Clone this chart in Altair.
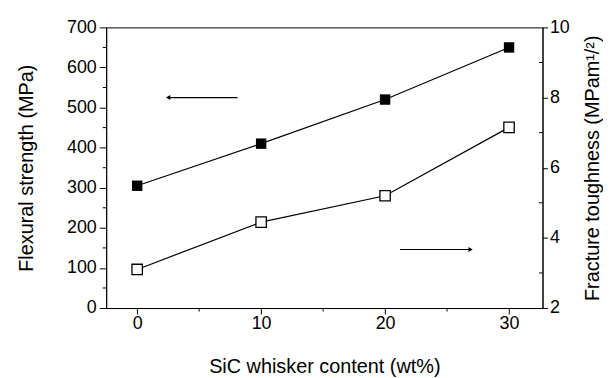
import altair as alt
import pandas as pd

# ---- data ----
content = [0, 10, 20, 30]
strength = [305, 410, 520, 650]          # MPa (filled squares, left axis)
toughness = [3.1, 4.45, 5.2, 7.15]        # MPa m^1/2 (open squares, right axis)

x_ticks = [0, 10, 20, 30]
x_minor = [5, 15, 25]
s_ticks = [0, 100, 200, 300, 400, 500, 600, 700]
s_minor = [50, 150, 250, 350, 450, 550, 650]
t_ticks = [2, 4, 6, 8, 10]
t_minor = [3, 5, 7, 9]

# arrows (in data coordinates of x and strength scale)
arrow_left_x = [8.1, 2.5]
arrow_left_y = [525, 525]
arrow_right_x = [21.2, 26.9]
arrow_right_y = [146, 146]

FONT = "Liberation Sans"
W, H = 440, 283

df = pd.DataFrame({"content": content, "strength": strength, "toughness": toughness})

xscale = alt.Scale(domain=[-2.5, 32.7], nice=False, zero=False)
sscale = alt.Scale(domain=[0, 700], nice=False, zero=False)
tscale = alt.Scale(domain=[2, 10], nice=False, zero=False)

xenc = alt.X("content:Q", scale=xscale,
             axis=alt.Axis(values=x_ticks, title="SiC whisker content (wt%)",
                           tickSize=6, labelPadding=1, titlePadding=24,
                           grid=False, format="d"))
senc = alt.Y("strength:Q", scale=sscale,
             axis=alt.Axis(values=s_ticks, title="Flexural strength (MPa)",
                           tickSize=7, labelPadding=3, titlePadding=30,
                           grid=False, format="d"))
tenc = alt.Y("toughness:Q", scale=tscale,
             axis=alt.Axis(values=t_ticks, orient="right",
                           title="Fracture toughness (MPam¹/²)",
                           titleAngle=270, titleBaseline="top",
                           tickSize=5, labelPadding=2,
                           titlePadding=13, grid=False, format="d"))

# left (strength) group
s_line = alt.Chart(df).mark_line(color="black", strokeWidth=1.2).encode(x=xenc, y=senc)
s_pts = alt.Chart(df).mark_point(shape="square", filled=True, color="black",
                                 size=110, opacity=1).encode(x=xenc, y=senc)

s_minor_df = pd.DataFrame({"strength": s_minor})
s_minor_ticks = alt.Chart(s_minor_df).mark_rule(color="black", strokeWidth=1).encode(
    y=senc, x=alt.value(-3.5), x2=alt.value(0))

x_minor_df = pd.DataFrame({"content": x_minor})
x_minor_ticks = alt.Chart(x_minor_df).mark_rule(color="black", strokeWidth=1).encode(
    x=xenc, y=alt.value(H), y2=alt.value(H + 3.5))

arr_l = pd.DataFrame({"content": arrow_left_x, "strength": arrow_left_y})
arr_r = pd.DataFrame({"content": arrow_right_x, "strength": arrow_right_y})
arrow_l_line = alt.Chart(arr_l).mark_line(color="black", strokeWidth=1.2).encode(x=xenc, y=senc)
arrow_r_line = alt.Chart(arr_r).mark_line(color="black", strokeWidth=1.2).encode(x=xenc, y=senc)
arrow_l_head = alt.Chart(arr_l.iloc[[1]]).mark_point(
    shape="triangle-left", filled=True, color="black", size=25, opacity=1).encode(x=xenc, y=senc)
arrow_r_head = alt.Chart(arr_r.iloc[[1]]).mark_point(
    shape="triangle-right", filled=True, color="black", size=25, opacity=1).encode(x=xenc, y=senc)

left_group = alt.layer(s_line, s_pts, s_minor_ticks, x_minor_ticks,
                       arrow_l_line, arrow_r_line, arrow_l_head, arrow_r_head)

# right (toughness) group
t_line = alt.Chart(df).mark_line(color="black", strokeWidth=1.2).encode(x=xenc, y=tenc)
t_pts = alt.Chart(df).mark_point(shape="square", filled=True, fill="white",
                                 stroke="black", strokeWidth=1.3, size=110,
                                 opacity=1).encode(x=xenc, y=tenc)
t_minor_df = pd.DataFrame({"toughness": t_minor})
t_minor_ticks = alt.Chart(t_minor_df).mark_rule(color="black", strokeWidth=1).encode(
    y=tenc, x=alt.value(W - 3.5), x2=alt.value(W))

right_group = alt.layer(t_line, t_pts, t_minor_ticks)

chart = alt.layer(left_group, right_group).resolve_scale(y="independent").properties(
    width=W, height=H, background="white",
    padding={"left": 8, "top": 9, "right": 0, "bottom": 0}
).configure_view(stroke="black", strokeWidth=1).configure_axis(
    labelFont=FONT, titleFont=FONT, labelFontSize=18, titleFontSize=20,
    labelColor="black", titleColor="black", titleFontWeight="normal",
    domainColor="black", tickColor="black", domainWidth=1, tickWidth=1
)

chart.save("out.html", embed_options={"renderer": "svg", "actions": False})
